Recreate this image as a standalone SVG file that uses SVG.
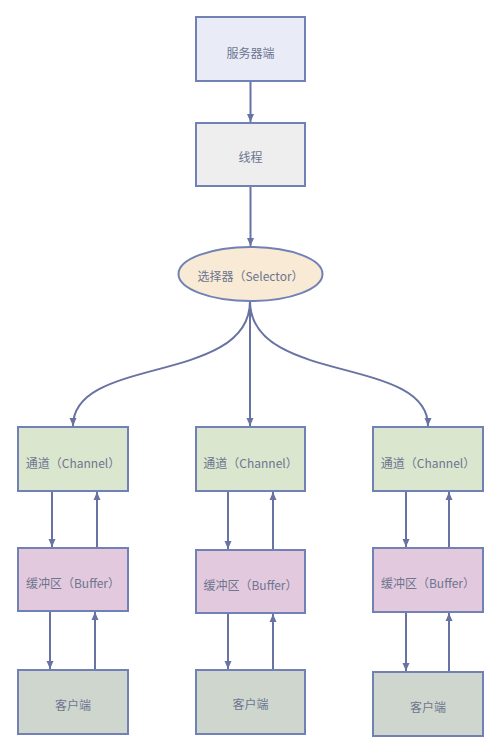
<svg xmlns="http://www.w3.org/2000/svg" width="496" height="748" viewBox="0 0 496 748">
<defs>
<marker id="ah" markerUnits="userSpaceOnUse" markerWidth="10" markerHeight="10" viewBox="0 0 10 10" refX="9" refY="5" orient="auto">
<path d="M1,1.5 L9,5 L1,8.5 Z" fill="#6873A3"/>
</marker>
<style>
.box{stroke:#7281B5;stroke-width:2}
.t{font-family:"Noto Sans CJK SC","Noto Sans",sans-serif;font-size:12px;fill:#6D7590;text-anchor:middle;dominant-baseline:central}
.c{fill:none;stroke:#6873A3;stroke-width:2;marker-end:url(#ah)}
.ch{fill:#DBE6CF}
.bf{fill:#E3C9DD}
.cl{fill:#CFD6CE}
</style>
</defs>
<rect width="496" height="748" fill="#ffffff"/>
<g id="connectors">
<path class="c" d="M250.5,81 L250.5,122"/>
<path class="c" d="M250.5,186 L250.5,246"/>
<path class="c" d="M250,301 C250,385 73,355 73,426"/>
<path class="c" d="M250,301 L250,426"/>
<path class="c" d="M250,301 C250,385 428,355 428,426"/>
<path class="c" d="M52,491 L52,547"/>
<path class="c" d="M97,548 L97,492"/>
<path class="c" d="M50,611 L50,669"/>
<path class="c" d="M95,670 L95,612"/>
<path class="c" d="M228,491 L228,549"/>
<path class="c" d="M273,550 L273,492"/>
<path class="c" d="M228,613 L228,669"/>
<path class="c" d="M273,670 L273,614"/>
<path class="c" d="M406,491 L406,547"/>
<path class="c" d="M449,548 L449,492"/>
<path class="c" d="M406,612 L406,671"/>
<path class="c" d="M449,672 L449,613"/>
</g>
<g id="server"><rect class="box" x="196" y="17" width="109" height="64" fill="#E9ECF7"/><text class="t" x="250.5" y="52">服务器端</text></g>
<g id="thread"><rect class="box" x="196" y="123" width="109" height="63" fill="#EEEEEE"/><text class="t" x="250.5" y="156">线程</text></g>
<g id="selector"><ellipse class="box" cx="250.5" cy="274" rx="72" ry="27" fill="#F8EAD5"/><text class="t" x="250.5" y="275">选择器（Selector）</text></g>
<g id="channel1"><rect class="box ch" x="18" y="427" width="110" height="64"/><text class="t" x="73" y="462">通道（Channel）</text></g>
<g id="channel2"><rect class="box ch" x="196" y="427" width="109" height="64"/><text class="t" x="250.5" y="462">通道（Channel）</text></g>
<g id="channel3"><rect class="box ch" x="373" y="427" width="110" height="64"/><text class="t" x="428" y="462">通道（Channel）</text></g>
<g id="buffer1"><rect class="box bf" x="18" y="548" width="110" height="63"/><text class="t" x="73" y="582">缓冲区（Buffer）</text></g>
<g id="buffer2"><rect class="box bf" x="196" y="550" width="109" height="63"/><text class="t" x="250.5" y="584">缓冲区（Buffer）</text></g>
<g id="buffer3"><rect class="box bf" x="373" y="548" width="110" height="64"/><text class="t" x="428" y="582">缓冲区（Buffer）</text></g>
<g id="client1"><rect class="box cl" x="18" y="670" width="110" height="64"/><text class="t" x="73" y="704">客户端</text></g>
<g id="client2"><rect class="box cl" x="196" y="670" width="109" height="64"/><text class="t" x="250.5" y="703">客户端</text></g>
<g id="client3"><rect class="box cl" x="373" y="672" width="110" height="64"/><text class="t" x="428" y="706">客户端</text></g>
</svg>
